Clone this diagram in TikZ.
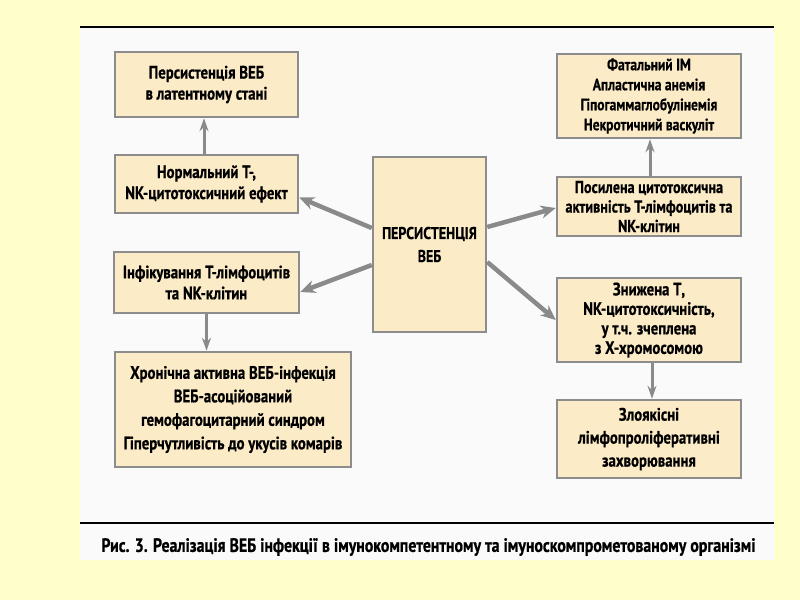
\documentclass[tikz,border=0pt]{standalone}
\usepackage{fontspec}
\setmainfont[FakeStretch=0.82,BoldFeatures={FakeBold=0.6}]{PT Sans}
\usetikzlibrary{arrows.meta}
\definecolor{pagebg}{HTML}{FFFFCC}
\definecolor{panelbg}{HTML}{FAFAFA}
\definecolor{boxfill}{HTML}{FCEBC7}
\definecolor{boxline}{HTML}{8C8C8C}
\definecolor{arrowcol}{HTML}{8A8A8A}
\tikzset{
  box/.style={draw=boxline, line width=2.5pt, fill=boxfill, align=center,
    inner sep=0pt, font=\bfseries\fontsize{18}{21}\selectfont, text=black},
  varrow/.style={draw=arrowcol, line width=3pt, -{Stealth[length=13pt,width=9pt]}},
  darrow/.style={draw=arrowcol, line width=4.5pt, -{Stealth[length=15pt,width=13pt]}},
  rule/.style={draw=black, line width=2.5pt}
}
\begin{document}
\begin{tikzpicture}[x=1pt,y=-1pt]
\useasboundingbox (0,0) rectangle (800,600);
\fill[pagebg] (0,0) rectangle (800,600);
\fill[panelbg] (80,27) rectangle (774,560);
\draw[rule] (80,27) -- (774,27);
\draw[rule] (80,523) -- (774,523);

\node[box, minimum width=183pt, minimum height=65pt] (b1) at (206.5,84.5)
  {Персистенція ВЕБ\\в латентному стані};
\node[box, minimum width=183pt, minimum height=58pt] (b2) at (206.5,184)
  {Нормальний Т-,\\NK-цитотоксичний ефект};
\node[box, minimum width=185pt, minimum height=61pt] (b4) at (206.5,282.5)
  {Інфікування Т-лімфоцитів\\та NK-клітин};
\node[box, minimum width=236pt, minimum height=115pt, font=\bfseries\fontsize{18}{23.5}\selectfont] (b5) at (233,409.5)
  {Хронічна активна ВЕБ-інфекція\\ВЕБ-асоційований\\гемофагоцитарний синдром\\Гіперчутливість до укусів комарів};
\node[box, minimum width=113pt, minimum height=175pt, font=\bfseries\fontsize{17}{23}\selectfont] (c) at (429.5,244.5)
  {ПЕРСИСТЕНЦІЯ\\ВЕБ};
\node[box, minimum width=184pt, minimum height=84pt, font=\bfseries\fontsize{16.5}{20}\selectfont] (b6) at (649,96)
  {Фатальний ІМ\\Апластична анемія\\Гіпогаммаглобулінемія\\Некротичний васкуліт};
\node[box, minimum width=184pt, minimum height=59pt, font=\bfseries\fontsize{17.3}{19.5}\selectfont] (b7) at (649,206.5)
  {Посилена цитотоксична\\активність Т-лімфоцитів та\\NK-клітин};
\node[box, minimum width=184pt, minimum height=84pt, font=\bfseries\fontsize{18}{19.5}\selectfont] (b8) at (649,320)
  {Знижена Т,\\NK-цитотоксичність,\\у т.ч. зчеплена\\з Х-хромосомою};
\node[box, minimum width=184pt, minimum height=78pt, font=\bfseries\fontsize{18}{23}\selectfont] (b9) at (649,439)
  {Злоякісні\\лімфопроліферативні\\захворювання};

\draw[varrow] ([xshift=-2.5pt]b2.north) -- ([xshift=-2.5pt]b1.south);
\draw[varrow] ([xshift=1pt]b7.north) -- ([xshift=1pt]b6.south);
\draw[varrow] (b4.south) -- (b4.south |- b5.north);
\draw[varrow] ([xshift=3pt]b8.south) -- ([xshift=3pt]b9.north);

\draw[darrow] ([yshift=16.5pt]c.west) -- ([yshift=-13.5pt]b2.east);
\draw[darrow] ([yshift=-20.5pt]c.west) -- ([yshift=-9.5pt]b4.east);
\draw[darrow] ([yshift=17.5pt]c.east) -- ([yshift=-1.5pt]b7.west);
\draw[darrow] ([yshift=-17.5pt]c.east) -- (b8.west);

\node[font=\bfseries\fontsize{19.3}{22}\selectfont, text=black, inner sep=0pt] (cap) at (428.5,547)
  {Рис. 3. Реалізація ВЕБ інфекції в імунокомпетентному та імуноскомпрометованому організмі};
\end{tikzpicture}
\end{document}
